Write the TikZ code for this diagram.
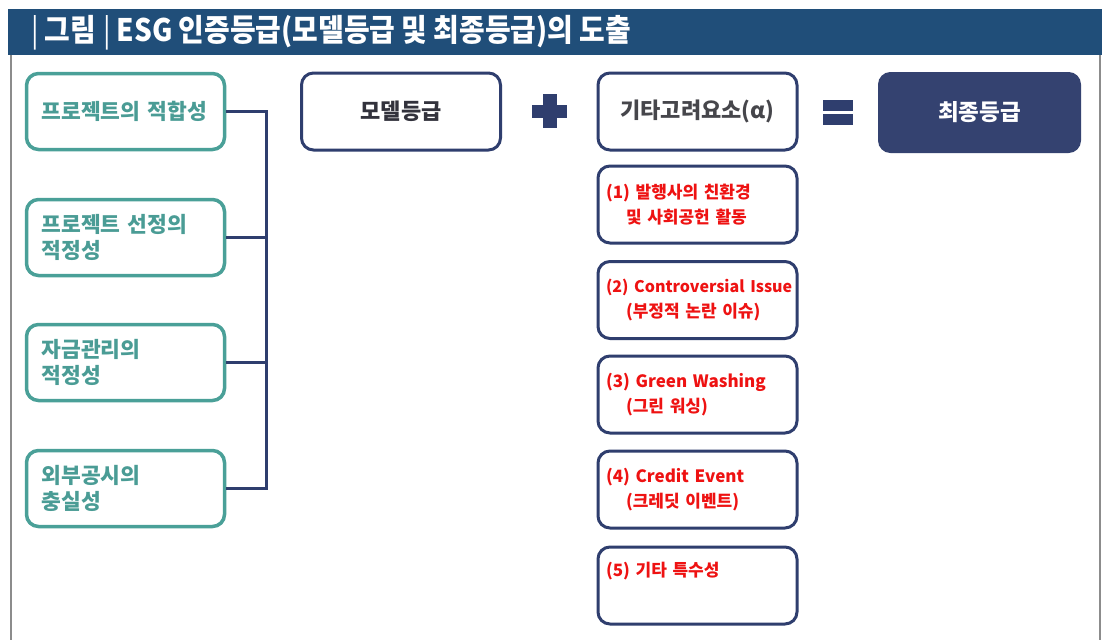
\documentclass[tikz,border=0pt]{standalone}
\usepackage{fontspec}
\setmainfont{Noto Sans CJK KR}
\newfontfamily\kr{Noto Sans CJK KR}
\newfontfamily\krtitle[FakeStretch=0.9]{Noto Sans CJK KR}
\definecolor{hdr}{RGB}{32,78,121}
\definecolor{navy}{RGB}{47,62,110}
\definecolor{navyfill}{RGB}{52,66,112}
\definecolor{teal}{RGB}{74,160,152}
\definecolor{tealtxt}{RGB}{74,156,149}
\definecolor{redtxt}{RGB}{238,18,18}
\definecolor{frame}{RGB}{140,140,140}
\definecolor{darktxt}{RGB}{50,50,60}
\definecolor{greytxt}{RGB}{70,70,75}
\tikzset{
  tealbox/.style={draw=teal, line width=3.5pt, rounded corners=12pt, fill=white,
    minimum width=198pt, minimum height=76pt, text width=168pt, inner xsep=15pt, inner ysep=0pt,
    align=left, text=tealtxt, font=\kr\bfseries\fontsize{21.5}{26.5}\selectfont},
  navybox/.style={draw=navy, line width=3pt, rounded corners=12pt, fill=white,
    minimum width=199pt, minimum height=77pt, inner sep=0pt, align=center,
    text=darktxt, font=\kr\bfseries\fontsize{22}{26}\selectfont},
  finalbox/.style={draw=navyfill, fill=navyfill, line width=1pt, rounded corners=12pt,
    minimum width=202pt, minimum height=80pt, inner sep=0pt,
    text=white, font=\kr\bfseries\fontsize{22.5}{26}\selectfont},
  redbox/.style={draw=navy, line width=3pt, rounded corners=12pt, fill=white,
    minimum width=199pt, minimum height=77pt, text width=183pt, inner xsep=8pt, inner ysep=0pt,
    align=left, text=redtxt, font=\kr\bfseries\fontsize{17}{25}\selectfont},
  conn/.style={draw=navy, line width=3pt},
  symb/.style={fill=navy, draw=none},
}
\begin{document}
\begin{tikzpicture}[x=1pt,y=-1pt]
\useasboundingbox (0,0) rectangle (1102,640);
\fill[white] (0,0) rectangle (1102,640);
% header
\fill[hdr] (8,9) rectangle (1102,55);
\node[anchor=west, text=white, inner sep=0pt] (title) at (31,33)
  {\krtitle\fontsize{31}{34}\selectfont |\hspace{6pt}\bfseries 그림\hspace{7pt}\mdseries|\hspace{6pt}\bfseries ESG 인증등급(모델등급 및 최종등급)의 도출};
% frame
\draw[frame, line width=1.5pt] (11,55) -- (11,640);
\draw[frame, line width=1.5pt] (1100,55) -- (1100,640);
% left boxes
\node[tealbox] (b1) at (125.5,111.5) {\mbox{프로젝트의 적합성}};
\node[tealbox] (b2) at (125.5,237.5) {프로젝트 선정의\\적정성};
\node[tealbox] (b3) at (125.5,362.5) {자금관리의\\적정성};
\node[tealbox] (b4) at (125.5,488.5) {외부공시의\\충실성};
% connector bus
\coordinate (bus) at (266,111.5);
\draw[conn] (b1.east) -- (b1.east -| bus) -- (b4.east -| bus) -- (b4.east);
\draw[conn] (b2.east) -- (b2.east -| bus);
\draw[conn] (b3.east) -- (b3.east -| bus);
% top row
\node[navybox] (model) at (401,111.5) {모델등급};
\node[navybox, text=greytxt] (alpha) at (697.5,111.5) {기타고려요소(α)};
\node[finalbox] (final) at (979.5,112.5) {최종등급};
% plus sign
\fill[symb] (532,105) rectangle (567,118);
\fill[symb] (542.5,94) rectangle (556.5,128);
% equals sign
\fill[symb] (823,100) rectangle (853,110.5);
\fill[symb] (823,114) rectangle (853,125);
% red boxes
\node[redbox] (r1) at (697.5,204.5) {(1) 발행사의 친환경\\\hspace*{20pt}및 사회공헌 활동};
\node[redbox] (r2) at (697.5,300) {\mbox{\fontsize{16}{25}\selectfont(2) Controversial Issue}\\\hspace*{20pt}(부정적 논란 이슈)};
\node[redbox] (r3) at (697.5,394.5) {(3) Green Washing\\\hspace*{20pt}(그린 워싱)};
\node[redbox] (r4) at (697.5,489.5) {(4) Credit Event\\\hspace*{20pt}(크레딧 이벤트)};
\node[redbox] (r5) at (697.5,585.5) {(5) 기타 특수성\\\strut};
\end{tikzpicture}
\end{document}
